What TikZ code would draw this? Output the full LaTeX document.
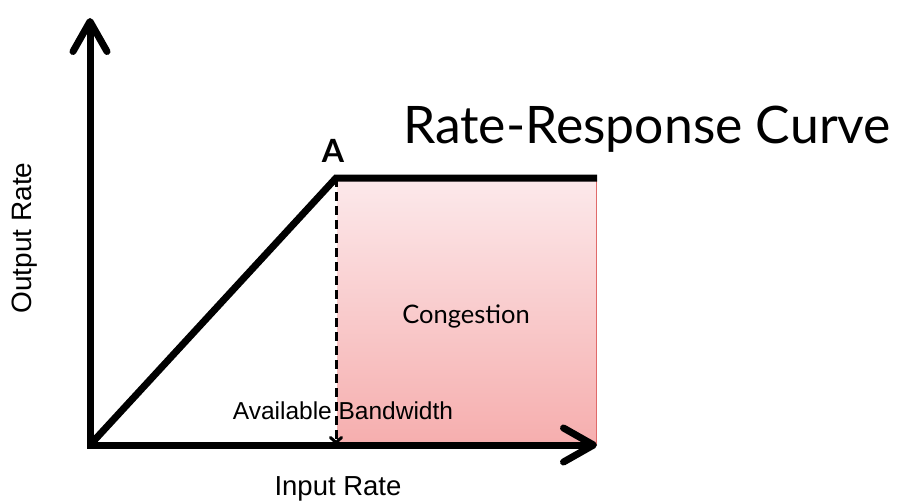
\documentclass[tikz,border=0pt]{standalone}
\usepackage{fontspec}
\setmainfont{Liberation Sans}
\newfontfamily\gillfont{Lato}
\usetikzlibrary{arrows.meta}
\definecolor{pinktop}{HTML}{FCE9EB}
\definecolor{pinkbot}{HTML}{F6AEAE}
\definecolor{edgered}{HTML}{E06A6A}
\tikzset{
  axis/.style={line width=7pt, {Straight Barb[length=30pt,width=34pt,round]}-{Straight Barb[length=30pt,width=34pt,round]}},
  curve/.style={line width=7pt},
  guide/.style={line width=3pt, dash pattern=on 9pt off 5pt, -{Straight Barb[length=5pt,width=11pt,round]}},
  lbl/.style={inner sep=0pt, font=\fontsize{24.5}{28}\selectfont},
}
\begin{document}
\begin{tikzpicture}[x=1pt,y=-1pt]
\useasboundingbox (0,0) rectangle (901,503);
\coordinate (o) at (90,445);
\coordinate (ytip) at (90,18);
\coordinate (xtip) at (597,445);
\coordinate (A) at (336,178);
\coordinate (E) at (597,178);
\coordinate (Abase) at (336,444);
% congestion area
\shade[top color=pinktop, bottom color=pinkbot] (337,178) rectangle (596,444);
\draw[edgered, line width=1pt] (596,178) -- (596,444);
% curve
\draw[curve] (o) -- (A) -- (E);
% dashed guide
\draw[guide] (A) -- (Abase);
% axes
\draw[axis] (ytip) -- (o) -- (xtip);
% labels
\node[inner sep=0pt, font=\gillfont\fontsize{51.7}{58}\selectfont] (title) at (647,129) {Rate-Response Curve};
\node[inner sep=0pt, font=\gillfont\bfseries\fontsize{32}{38}\selectfont] (alabel) at (333,151) {A};
\node[inner sep=0pt, font=\gillfont\fontsize{25.5}{30}\selectfont] (cong) at (466,316) {Congestion};
\node[lbl] (avail) at (343,411) {Available Bandwidth};
\node[lbl, font=\fontsize{28}{32}\selectfont, rotate=90] (out) at (25,238) {Output Rate};
\node[lbl, font=\fontsize{27.5}{31}\selectfont] (in) at (338,489) {Input Rate};
\end{tikzpicture}
\end{document}
